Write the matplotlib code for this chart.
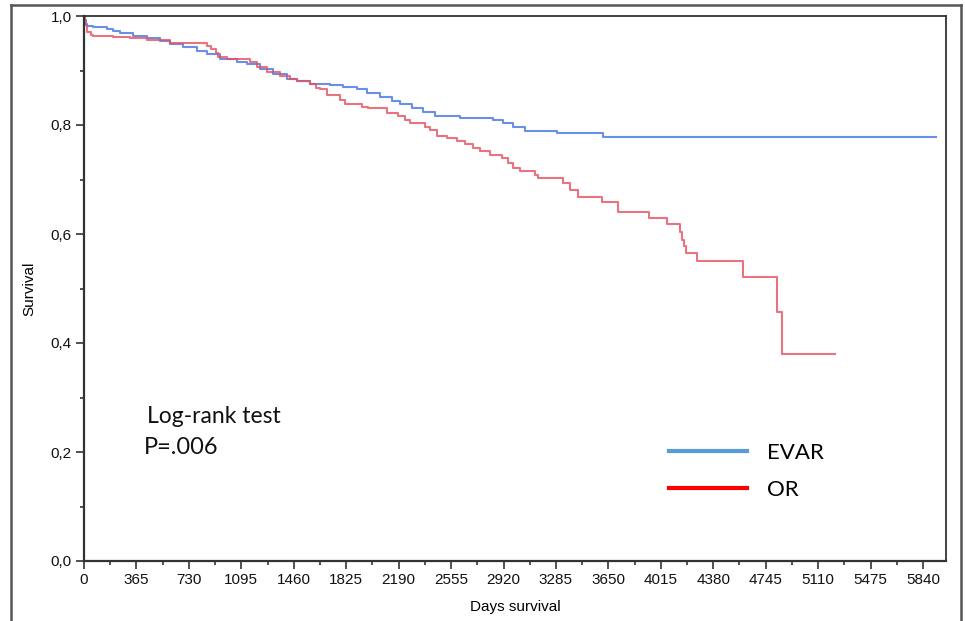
import numpy as np
import matplotlib
matplotlib.use("Agg")
import matplotlib.pyplot as plt
from matplotlib.lines import Line2D
from matplotlib.ticker import FixedLocator, FuncFormatter

# ---- data ----
evar_days = [0, 7, 14, 21, 63, 160, 202, 251, 341, 439, 529, 599, 689, 787, 856, 947,
             1065, 1135, 1225, 1316, 1413, 1483, 1573, 1712, 1803, 1900, 1970, 2061, 2144,
             2200, 2283, 2360, 2443, 2617, 2847, 2917, 2986, 3070, 3293, 3613, 5931]
evar_surv = [1.000, 0.993, 0.985, 0.982, 0.980, 0.976, 0.972, 0.969, 0.963, 0.960, 0.954,
             0.949, 0.943, 0.936, 0.930, 0.921, 0.916, 0.912, 0.903, 0.894, 0.884, 0.881,
             0.875, 0.873, 0.870, 0.866, 0.859, 0.851, 0.844, 0.839, 0.831, 0.824, 0.817,
             0.813, 0.809, 0.804, 0.796, 0.789, 0.785, 0.778, 0.778]

or_days = [0, 7, 21, 49, 63, 202, 320, 439, 599, 856, 884, 919, 933, 995, 1156, 1204,
           1274, 1364, 1434, 1483, 1573, 1615, 1643, 1692, 1782, 1817, 1935, 1977, 2109,
           2186, 2234, 2269, 2374, 2409, 2457, 2527, 2596, 2652, 2708, 2757, 2826, 2910,
           2952, 2986, 3035, 3139, 3160, 3334, 3383, 3439, 3606, 3717, 3933, 4058, 4149,
           4163, 4177, 4191, 4267, 4587, 4824, 4859, 5228]
or_surv = [1.000, 0.983, 0.971, 0.965, 0.963, 0.961, 0.960, 0.956, 0.950, 0.945, 0.939,
           0.932, 0.925, 0.921, 0.916, 0.906, 0.897, 0.890, 0.884, 0.881, 0.875, 0.868,
           0.866, 0.855, 0.846, 0.839, 0.833, 0.831, 0.822, 0.817, 0.809, 0.804, 0.796,
           0.791, 0.780, 0.776, 0.771, 0.765, 0.758, 0.752, 0.745, 0.739, 0.730, 0.721,
           0.716, 0.708, 0.703, 0.694, 0.681, 0.668, 0.659, 0.641, 0.630, 0.618, 0.604,
           0.589, 0.578, 0.565, 0.550, 0.521, 0.457, 0.380, 0.380]

x_ticks = list(range(0, 5841, 365))
y_ticks = [0.0, 0.2, 0.4, 0.6, 0.8, 1.0]
groups = ["EVAR", "OR"]
legend_colors = ["#5b9bd5", "#ff0000"]

# ---- figure ----
fig = plt.figure(figsize=(9.65, 6.21), dpi=100)
W, H = 965, 621
ax = fig.add_axes([84 / W, 1 - 561 / H, (946 - 84) / W, (561 - 16) / H])

ax.step(evar_days, evar_surv, where="post", color="#4f7de6", lw=1.5, alpha=0.85)
ax.step(or_days, or_surv, where="post", color="#e4505e", lw=1.5, alpha=0.8)

ax.set_xlim(0, 6000)
ax.set_ylim(0, 1.0)
ax.xaxis.set_major_locator(FixedLocator(x_ticks))
ax.xaxis.set_minor_locator(FixedLocator([t + 182.5 for t in x_ticks]))
ax.yaxis.set_major_locator(FixedLocator(y_ticks))
ax.yaxis.set_minor_locator(FixedLocator([0.1, 0.3, 0.5, 0.7, 0.9]))
ax.yaxis.set_major_formatter(FuncFormatter(lambda v, p: f"{v:.1f}".replace(".", ",")))

for s in ax.spines.values():
    s.set_color("#333333")
    s.set_linewidth(1.3)
ax.spines["left"].set_linewidth(1.6)
ax.spines["bottom"].set_linewidth(1.6)

ax.tick_params(axis="both", which="major", direction="out", length=6, width=1.2,
               color="#333333", labelsize=11, pad=3)
ax.tick_params(axis="both", which="minor", direction="out", length=3, width=1.2,
               color="#333333")
for lab in ax.get_xticklabels() + ax.get_yticklabels():
    lab.set_fontfamily("Liberation Sans")
    lab.set_color("#111111")

ax.set_xlabel("Days survival", fontfamily="Liberation Sans", fontsize=11, labelpad=9)
ax.set_ylabel("Survival", fontfamily="Liberation Sans", fontsize=11, labelpad=10)

# annotation
fig.text(147 / W, 1 - 423 / H, "Log-rank test", fontfamily="Lato", fontsize=16.5,
         ha="left", va="baseline", color="#111111")
fig.text(144 / W, 1 - 454 / H, "P=.006", fontfamily="Lato", fontsize=17,
         ha="left", va="baseline", color="#111111")

# legend
handles = [Line2D([], [], color=c, lw=3) for c in legend_colors]
leg = ax.legend(handles, groups, loc="upper left",
                bbox_to_anchor=(649 / W, 1 - 423 / H), bbox_transform=fig.transFigure,
                frameon=False, handlelength=3.5, handletextpad=0.9, labelspacing=0.77,
                prop={"family": "Lato", "size": 16})

# outer frame
frame_kw = dict(color="#555555", lw=1.8, transform=fig.transFigure)
fig.add_artist(Line2D([11 / W, 11 / W], [0, 1 - 5 / H], **frame_kw))
fig.add_artist(Line2D([11 / W, 961 / W], [1 - 5 / H, 1 - 5 / H], **frame_kw))
fig.add_artist(Line2D([961 / W, 961 / W], [0, 1 - 5 / H], **frame_kw))

fig.savefig("out.png", dpi=100)
